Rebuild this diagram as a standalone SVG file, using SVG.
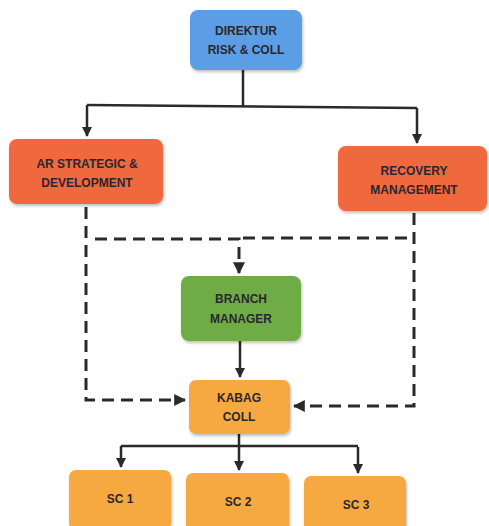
<svg xmlns="http://www.w3.org/2000/svg" width="489" height="526" viewBox="0 0 489 526">
<defs>
<marker id="ah" viewBox="0 0 10 10" refX="9" refY="5" markerWidth="4" markerHeight="4" orient="auto" markerUnits="strokeWidth">
<path d="M0,0 L10,5 L0,10 z" fill="#2a2a2a"/>
</marker>
<filter id="sh" x="-10%" y="-10%" width="125%" height="130%">
<feDropShadow dx="1" dy="2" stdDeviation="1.5" flood-color="#000" flood-opacity="0.25"/>
</filter>
</defs>
<style>
.box{stroke:none;filter:url(#sh)}
.blue{fill:#5b9ee6}
.red{fill:#f0683e}
.green{fill:#6fac45}
.orange{fill:#f6a93f}
.t{font-family:"Liberation Sans",Arial,sans-serif;font-weight:bold;font-size:12px;fill:#2a2630;text-anchor:middle}
.ln{fill:none;stroke:#2a2a2a;stroke-width:2.5}
.dash{fill:none;stroke:#2a2a2a;stroke-width:3;stroke-dasharray:12 7}
</style>
<rect width="489" height="526" fill="#fff"/>
<g id="connectors">
<path class="ln" d="M243,70 V106 M87,105 L417,108"/>
<path class="ln" d="M87,105 V136" marker-end="url(#ah)"/>
<path class="ln" d="M417,108 V143" marker-end="url(#ah)"/>
<path class="dash" d="M86,207 V400 H185" marker-end="url(#ah)"/>
<path class="dash" d="M95,239 H239 V273" marker-end="url(#ah)"/>
<path class="dash" d="M243,238 H410"/>
<path class="dash" d="M414,213 V406 H294" marker-end="url(#ah)"/>
<path class="ln" d="M240,341 V377" marker-end="url(#ah)"/>
<path class="ln" d="M239,434 V447 M121,446 H358"/>
<path class="ln" d="M121,446 V467" marker-end="url(#ah)"/>
<path class="ln" d="M239,446 V470" marker-end="url(#ah)"/>
<path class="ln" d="M358,447 V473" marker-end="url(#ah)"/>
</g>
<g id="direktur">
<rect class="box blue" x="190" y="10" width="112" height="60" rx="8"/>
<text class="t" x="246" y="35">DIREKTUR</text>
<text class="t" x="246" y="54">RISK &amp; COLL</text>
</g>
<g id="ar-strategic">
<rect class="box red" x="9" y="139" width="154" height="65" rx="8"/>
<text class="t" x="87" y="168">AR STRATEGIC &amp;</text>
<text class="t" x="87" y="187">DEVELOPMENT</text>
</g>
<g id="recovery">
<rect class="box red" x="338" y="146" width="149" height="65" rx="8"/>
<text class="t" x="414" y="175">RECOVERY</text>
<text class="t" x="414" y="194">MANAGEMENT</text>
</g>
<g id="branch-manager">
<rect class="box green" x="181" y="276" width="120" height="65" rx="8"/>
<text class="t" x="241" y="303">BRANCH</text>
<text class="t" x="241" y="323">MANAGER</text>
</g>
<g id="kabag">
<rect class="box orange" x="189" y="380" width="101" height="54" rx="7"/>
<text class="t" x="239" y="402">KABAG</text>
<text class="t" x="239" y="421">COLL</text>
</g>
<g id="sc1">
<rect class="box orange" x="69" y="470" width="102" height="60" rx="7"/>
<text class="t" x="120" y="503">SC 1</text>
</g>
<g id="sc2">
<rect class="box orange" x="186" y="473" width="103" height="60" rx="7"/>
<text class="t" x="238" y="506">SC 2</text>
</g>
<g id="sc3">
<rect class="box orange" x="304" y="476" width="102" height="60" rx="7"/>
<text class="t" x="356" y="509">SC 3</text>
</g>
</svg>
